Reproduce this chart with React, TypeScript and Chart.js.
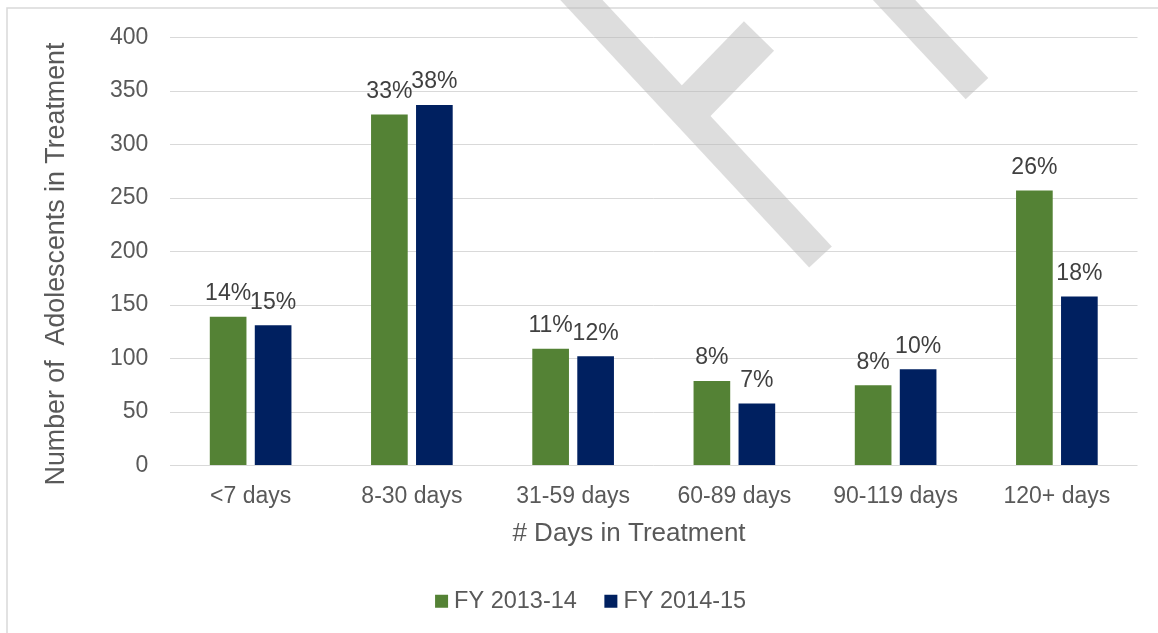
import React, { useEffect, useRef } from 'react';
import { Chart, registerables } from 'chart.js';

Chart.register(...registerables);

const FONT = "'Liberation Sans', Arial, sans-serif";

const categories = ['<7 days', '8-30 days', '31-59 days', '60-89 days', '90-119 days', '120+ days'];
const fy1314 = [139, 328, 109, 79, 75, 257];
const fy1415 = [131, 337, 102, 58, 90, 158];
const pct1314 = ['14%', '33%', '11%', '8%', '8%', '26%'];
const pct1415 = ['15%', '38%', '12%', '7%', '10%', '18%'];
const seriesLabels = ['FY 2013-14', 'FY 2014-15'];
const seriesColors = ['#548235', '#002060'];
const yMin = 0;
const yMax = 400;
const yStep = 50;
const xTitle = '# Days in Treatment';
const yTitle = 'Number of  Adolescents in Treatment';

// axis title placement (layout only)
const xTitlePos = { x: 629, y: 534.3, size: 26 };
const yTitlePos = { x: 56.6, y: 264, size: 26.8 };

// decorative "DRAFT" watermark fragments (not data)
const watermarkStrokes = [
  { x1: 540.5, y1: -44, x2: 820.5, y2: 257, w: 31 },
  { x1: 685.8, y1: 111.3, x2: 759, y2: 36, w: 42 },
  { x1: 853, y1: -44, x2: 977, y2: 88.7, w: 31 },
];

const framePlugin = {
  id: 'frame',
  beforeDraw(chart: any) {
    const ctx = chart.ctx;
    ctx.save();
    ctx.fillStyle = '#ffffff';
    ctx.fillRect(0, 0, chart.width, chart.height);
    ctx.strokeStyle = '#d9d9d9';
    ctx.lineWidth = 1.5;
    ctx.strokeRect(7, 8, 1200, 700);
    ctx.restore();
  },
};

const pctLabelPlugin = {
  id: 'pctLabels',
  afterDatasetsDraw(chart: any) {
    const ctx = chart.ctx;
    ctx.save();
    ctx.font = `23px ${FONT}`;
    ctx.fillStyle = '#404040';
    ctx.textAlign = 'center';
    ctx.textBaseline = 'alphabetic';
    chart.data.datasets.forEach((ds: any, i: number) => {
      const meta = chart.getDatasetMeta(i);
      meta.data.forEach((el: any, j: number) => {
        ctx.fillText(ds.pctLabels[j], el.x, el.y - 16.5);
      });
    });
    ctx.restore();
  },
};

const axisTitlePlugin = {
  id: 'axisTitles',
  afterDraw(chart: any) {
    const ctx = chart.ctx;
    ctx.save();
    ctx.fillStyle = '#595959';
    ctx.textAlign = 'center';
    ctx.textBaseline = 'middle';
    ctx.font = `${xTitlePos.size}px ${FONT}`;
    ctx.fillText(xTitle, xTitlePos.x, xTitlePos.y);
    ctx.translate(yTitlePos.x, yTitlePos.y);
    ctx.rotate(-Math.PI / 2);
    ctx.font = `${yTitlePos.size}px ${FONT}`;
    ctx.fillText(yTitle, 0, 0);
    ctx.restore();
  },
};

const watermarkPlugin = {
  id: 'watermark',
  afterDraw(chart: any) {
    const off = document.createElement('canvas');
    off.width = chart.width;
    off.height = chart.height;
    const w = off.getContext('2d')!;
    w.strokeStyle = '#b9b9b9';
    w.lineCap = 'butt';
    w.lineJoin = 'round';
    watermarkStrokes.forEach((s) => {
      w.lineWidth = s.w;
      w.beginPath();
      w.moveTo(s.x1, s.y1);
      w.lineTo(s.x2, s.y2);
      w.stroke();
    });
    const ctx = chart.ctx;
    ctx.save();
    ctx.globalAlpha = 0.47;
    ctx.drawImage(off, 0, 0);
    ctx.restore();
  },
};

export default function App() {
  const ref = useRef<HTMLCanvasElement>(null);

  useEffect(() => {
    const chart = new Chart(ref.current!, {
      type: 'bar',
      data: {
        labels: categories,
        datasets: [
          {
            label: seriesLabels[0],
            data: fy1314,
            backgroundColor: seriesColors[0],
            borderWidth: 0,
            pctLabels: pct1314,
            categoryPercentage: 0.558,
            barPercentage: 0.815,
          } as any,
          {
            label: seriesLabels[1],
            data: fy1415,
            backgroundColor: seriesColors[1],
            borderWidth: 0,
            pctLabels: pct1415,
            categoryPercentage: 0.558,
            barPercentage: 0.815,
          } as any,
        ],
      },
      options: {
        responsive: false,
        animation: false,
        devicePixelRatio: 1,
        layout: { padding: { top: 37.5, right: 20.5, bottom: 10, left: 49.5 } },
        scales: {
          x: {
            grid: { display: false, drawTicks: false },
            border: { display: false },
            ticks: {
              color: '#595959',
              font: { family: FONT, size: 23 },
              padding: 17.5,
              maxRotation: 0,
              autoSkip: false,
            },
            title: { display: false, text: xTitle },
            afterFit: (s: any) => {
              s.height = 90.75;
            },
          },
          y: {
            min: yMin,
            max: yMax,
            ticks: {
              stepSize: yStep,
              color: '#595959',
              font: { family: FONT, size: 23 },
              padding: 21.7,
            },
            grid: { color: '#d9d9d9', lineWidth: 1, drawTicks: false },
            border: { display: false },
            title: { display: false, text: yTitle },
            afterFit: (s: any) => {
              s.width = 120.5;
            },
          },
        },
        plugins: {
          legend: {
            position: 'bottom',
            labels: {
              usePointStyle: true,
              pointStyle: 'rect',
              boxWidth: 1.5,
              boxHeight: 13,
              padding: 33.25,
              color: '#595959',
              font: { family: FONT, size: 23.5 },
            },
          },
          tooltip: { enabled: false },
        },
      } as any,
      plugins: [framePlugin, pctLabelPlugin, axisTitlePlugin, watermarkPlugin],
    });
    return () => chart.destroy();
  }, []);

  return (
    <div style={{ position: 'fixed', left: 0, top: 0, width: 1158, height: 633, background: '#fff' }}>
      <canvas ref={ref} width={1158} height={633} style={{ display: 'block', width: 1158, height: 633 }} />
    </div>
  );
}
